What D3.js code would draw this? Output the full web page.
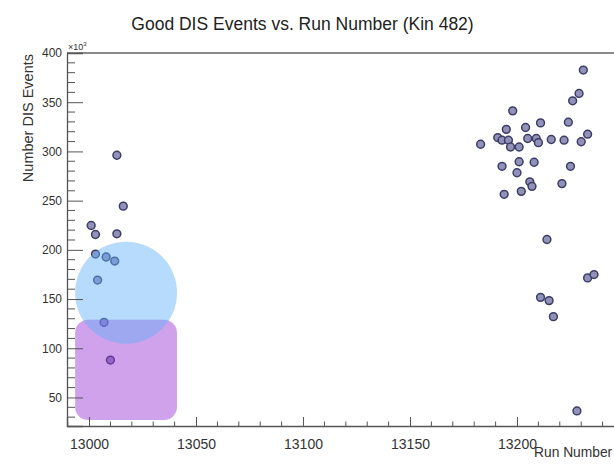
<!DOCTYPE html>
<html>
<head>
<meta charset="utf-8">
<script src="https://cdn.jsdelivr.net/npm/d3@7"></script>
<style>
  html, body { margin: 0; padding: 0; background: #ffffff; }
  svg { display: block; font-family: "Liberation Sans", Arial, Helvetica, sans-serif; }
</style>
</head>
<body>
<svg id="chart" width="614" height="464"></svg>
<script>
// Good DIS events (in thousands) per run, kinematic setting 482
const runNumbers = [
  13001, 13003, 13003, 13008, 13012, 13004, 13007, 13010, 13013, 13016, 13013,
  13231, 13229, 13226, 13198, 13211, 13224, 13195, 13204, 13183, 13191, 13193,
  13196, 13197, 13201, 13205, 13209, 13210, 13216, 13222, 13230, 13233, 13193,
  13201, 13200, 13208, 13225, 13206, 13207, 13221, 13202, 13194, 13214, 13211,
  13215, 13217, 13233, 13236, 13228
];
const disEvents = [
  224.8, 215.6, 195.7, 192.7, 188.6, 169.3, 126.3, 88.0, 216.3, 244.4, 296.1,
  382.7, 358.9, 351.4, 341.2, 329.0, 329.7, 322.4, 324.3, 307.3, 314.1, 311.4,
  311.4, 304.5, 304.5, 313.1, 313.1, 308.9, 312.1, 311.4, 309.8, 317.5, 284.9,
  289.5, 278.3, 289.0, 284.9, 269.1, 264.5, 267.3, 259.4, 256.4, 210.5, 151.7,
  148.4, 132.1, 171.5, 174.9, 36.3
];

const xMajorTicks = [13000, 13050, 13100, 13150, 13200];
const yMajorTicks = [50, 100, 150, 200, 250, 300, 350, 400];
const xDomain = [12989.7, 13246.5];
const yDomain = [21, 400];

const titleText = "Good DIS Events vs. Run Number (Kin 482)";
const xTitle = "Run Number";
const yTitle = "Number DIS Events";

const svg = d3.select("#chart");

const frame = { left: 67, right: 616.5, top: 53, bottom: 426 };

const x = d3.scaleLinear().domain(xDomain).range([frame.left, frame.right]);
const y = d3.scaleLinear().domain(yDomain).range([frame.bottom, frame.top]);

const axisColor = "#555";

// minor ticks every 10 units
const xMinorTicks = d3.range(12990, 13250, 10).filter(v => v >= xDomain[0] && v <= xDomain[1] && !xMajorTicks.includes(v));
const yMinorTicks = d3.range(30, 401, 10).filter(v => v >= yDomain[0] && !yMajorTicks.includes(v));

// data markers
const points = runNumbers.map((r, i) => ({ run: r, value: disEvents[i] }));
svg.append("g")
  .selectAll("circle")
  .data(points)
  .join("circle")
  .attr("cx", d => x(d.run))
  .attr("cy", d => y(d.value))
  .attr("r", 3.9)
  .attr("fill", "#9292b8")
  .attr("stroke", "#3c3c68")
  .attr("stroke-width", 1.5);

// highlight shapes placed in data space
const highlightBox = { run0: 12993.5, run1: 13041.1, ev0: 27, ev1: 129 };
const highlightDisk = { run: 13017.3, ev: 156.5 };

svg.append("rect")
  .attr("x", x(highlightBox.run0))
  .attr("y", y(highlightBox.ev1))
  .attr("width", x(highlightBox.run1) - x(highlightBox.run0))
  .attr("height", y(highlightBox.ev0) - y(highlightBox.ev1))
  .attr("rx", 13)
  .attr("fill", "rgb(151,48,213)")
  .attr("fill-opacity", 0.45);

svg.append("circle")
  .attr("cx", x(highlightDisk.run))
  .attr("cy", y(highlightDisk.ev))
  .attr("r", 51)
  .attr("fill", "rgb(95,175,248)")
  .attr("fill-opacity", 0.45);

// frame top edge
svg.append("line")
  .attr("x1", frame.left).attr("x2", frame.right)
  .attr("y1", frame.top).attr("y2", frame.top)
  .attr("stroke", "#666").attr("stroke-width", 1.6);

// x axis (ticks pointing into the plot)
const xAxis = d3.axisBottom(x)
  .tickValues(xMajorTicks)
  .tickSize(-9)
  .tickPadding(13)
  .tickFormat(d3.format("d"));
const gx = svg.append("g")
  .attr("transform", `translate(0,${frame.bottom})`)
  .call(xAxis);
gx.select(".domain").attr("stroke", axisColor).attr("stroke-width", 1.3);
gx.selectAll(".tick line").attr("stroke", axisColor);
gx.selectAll(".tick text")
  .attr("fill", "#333")
  .style("font-size", "14px")
  .style("font-family", "'Liberation Sans', Arial, sans-serif");
gx.append("g").selectAll("line")
  .data(xMinorTicks)
  .join("line")
  .attr("x1", d => x(d)).attr("x2", d => x(d))
  .attr("y1", 0).attr("y2", -4.5)
  .attr("stroke", axisColor);

// y axis (ticks pointing into the plot)
const yAxis = d3.axisLeft(y)
  .tickValues(yMajorTicks)
  .tickSize(-16)
  .tickPadding(5)
  .tickFormat(d3.format("d"));
const gy = svg.append("g")
  .attr("transform", `translate(${frame.left},0)`)
  .call(yAxis);
gy.select(".domain").attr("stroke", axisColor).attr("stroke-width", 1.3);
gy.selectAll(".tick line").attr("stroke", axisColor);
gy.selectAll(".tick text")
  .attr("fill", "#333")
  .style("font-size", "12px")
  .style("font-family", "'Liberation Sans', Arial, sans-serif");
gy.append("g").selectAll("line")
  .data(yMinorTicks)
  .join("line")
  .attr("x1", 0).attr("x2", 8)
  .attr("y1", d => y(d)).attr("y2", d => y(d))
  .attr("stroke", axisColor);

// exponent marker
const expo = svg.append("text")
  .attr("x", frame.left + 1)
  .attr("y", frame.top - 3)
  .attr("fill", "#333")
  .style("font-size", "9px");
expo.append("tspan").text("×10");
expo.append("tspan").attr("dy", -4).style("font-size", "6px").text("3");

// title
svg.append("text")
  .attr("x", 302.5)
  .attr("y", 30)
  .attr("text-anchor", "middle")
  .attr("fill", "#222")
  .style("font-size", "17.5px")
  .text(titleText);

// axis titles
svg.append("text")
  .attr("x", 534)
  .attr("y", 457)
  .attr("text-anchor", "start")
  .attr("fill", "#333")
  .style("font-size", "13.8px")
  .text(xTitle);

svg.append("text")
  .attr("transform", `translate(33,${frame.top + 1}) rotate(-90)`)
  .attr("text-anchor", "end")
  .attr("fill", "#333")
  .style("font-size", "14.5px")
  .text(yTitle);
</script>
</body>
</html>
